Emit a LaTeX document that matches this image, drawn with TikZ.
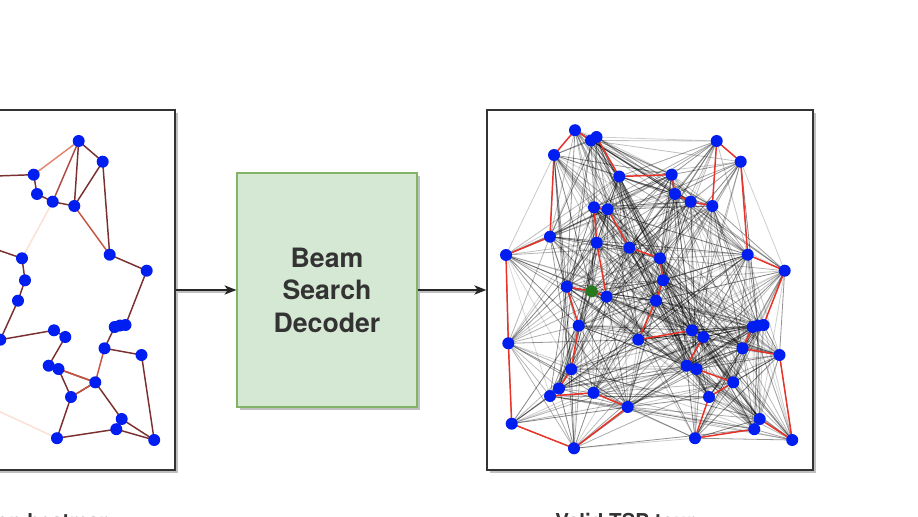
\documentclass[tikz,border=0pt]{standalone}
\usepackage{fontspec}
\setmainfont{TeX Gyre Heros}
\usetikzlibrary{arrows.meta,shadows}
\definecolor{heatdark}{RGB}{122,48,48}
\definecolor{heatred}{RGB}{176,74,70}
\definecolor{heatmid}{RGB}{198,84,66}
\definecolor{heatorange}{RGB}{229,135,110}
\definecolor{heatpale}{RGB}{252,225,212}
\definecolor{dotblue}{RGB}{0,30,240}
\definecolor{dotgreen}{RGB}{40,120,30}
\definecolor{boxfill}{RGB}{213,232,212}
\definecolor{boxline}{RGB}{130,179,102}
\definecolor{tourred}{RGB}{235,50,40}
\definecolor{labelgray}{RGB}{51,51,51}
\tikzset{>={Stealth[length=9pt,width=7pt,inset=2.5pt]},
  panel/.style={draw=black!80, line width=1pt, fill=white, inner sep=0pt,
    minimum width=244.5pt, minimum height=270pt,
    drop shadow={shadow xshift=2pt, shadow yshift=-2pt, fill=black!25, opacity=1}},
  decoder/.style={draw=boxline, line width=0.8pt, fill=boxfill, inner sep=0pt,
    minimum width=135pt, minimum height=175.5pt, align=center, text=labelgray,
    font=\bfseries\fontsize{20}{24.4}\selectfont,
    drop shadow={shadow xshift=2pt, shadow yshift=-2pt, fill=black!25, opacity=1}},
  caption/.style={text=labelgray, inner sep=0pt, font=\bfseries\fontsize{15.4}{18}\selectfont},
  flow/.style={->, line width=1pt, black!85},
  flow shadow/.style={line width=1pt, black!25},
  city/.style={circle, fill=dotblue, inner sep=0pt, minimum size=9pt},
  heat edge/.style={line width=1.1pt, heatdark},
  mesh edge/.style={line width=0.6pt, black},
  tour edge/.style={line width=1.1pt, tourred, line cap=round}}
% city positions, in tour order
\def\cities{703.3/337, 686.7/365.7, 696.5/369, 733.3/382.3, 709/397, 695/438.2,
  754.3/429.2, 759.7/419, 792.2/440, 779.5/355, 742.5/348.3, 752.7/327, 758/325.5,
  763.5/325, 784.7/270.7, 747.7/254.7, 740.7/161.7, 716.7/141, 712.3/206, 690.7/201.7,
  675/194, 671.7/174.7, 619.2/176.5, 596.5/137, 591/140.5, 575/130.2, 554/155,
  550/236.7, 506/255, 508.3/343.3, 511.7/423.7, 574/448.3, 627.7/407, 593.5/392.8,
  550/396, 559/388.5, 571.2/369.2, 578.7/325.7, 566.7/286.7, 591.7/291.3, 606.5/296.7,
  596.7/242.7, 594/207.3, 607.7/209.3, 629.3/247.7, 660/258.3, 663/280.3, 656/300.7,
  638.3/339.7, 692/330.3}

\begin{document}
\begin{tikzpicture}[x=0.75pt, y=-0.75pt]
    \clip (0,0) rectangle (918,517);
    \node[panel] (heat) at (12,290) {};
    \node[panel] (tour) at (650,290) {};
    \node[decoder] (beam) at (327,290) {Beam\\Search\\Decoder};
    \draw[flow shadow] ([yshift=-1.5pt]heat.east) -- ([yshift=-1.5pt, xshift=-6pt]beam.west);
    \draw[flow] (heat.east) -- (beam.west);
    \draw[flow shadow] ([yshift=-1.5pt]beam.east) -- ([yshift=-1.5pt, xshift=-6pt]tour.west);
    \draw[flow] (beam.east) -- (tour.west);
    \node[caption, anchor=base east] (heatlabel) at (112,528.5) {Edge prediction heatmap};
    \node[caption, anchor=base west] (tourlabel) at (555,528.5) {Valid TSP tour};

    \foreach \x/\y [count=\i] in \cities {
        \coordinate (t\i) at (\x,\y);
        \coordinate (h\i) at ({\x-638},\y);
    }

    % heatmap panel
    \foreach \i [evaluate=\i as \k using {int(mod(\i,50)+1)}] in {1,...,50}
        \draw[heat edge] (h\i) -- (h\k);
    \foreach \a/\b in {3/5, 7/9, 4/8, 19/17}
        \draw[heat edge] (h\a) -- (h\b);
    \foreach \a/\b in {3/4, 5/4, 11/4, 19/16}
        \draw[heat edge, heatmid] (h\a) -- (h\b);
    \draw[heat edge, heatred] (h20) -- (h18);
    \draw[heat edge, heatorange] (h22) -- (h18);
    \draw[heat edge, heatpale] (h20) -- (h46) (h33) -- (h6);
    \foreach \i in {1,...,50}
        \node[city] (hc\i) at (h\i) {};

    % tour panel
    \pgfmathsetseed{11}
    \foreach \xa/\ya [count=\i] in \cities {
        \foreach \xb/\yb [count=\j] in \cities {
            \ifnum\j>\i
                \pgfmathtruncatemacro\keep{(veclen(\xb-\xa,\yb-\ya)<140) || (rnd<0.16)}
                \ifnum\keep=1
                    \pgfmathsetmacro\op{0.14+0.36*rnd}
                    \draw[mesh edge, draw opacity=\op] (t\i) -- (t\j);
                \fi
            \fi
        }
    }
    \foreach \i [evaluate=\i as \k using {int(mod(\i,50)+1)}] in {1,...,50}
        \draw[tour edge] (t\i) -- (t\k);
    \foreach \i in {1,...,50} {
        \ifnum\i=40 \def\dotcol{dotgreen}\else\def\dotcol{dotblue}\fi
        \node[city, fill=\dotcol] (tc\i) at (t\i) {};
    }
\end{tikzpicture}
\end{document}
